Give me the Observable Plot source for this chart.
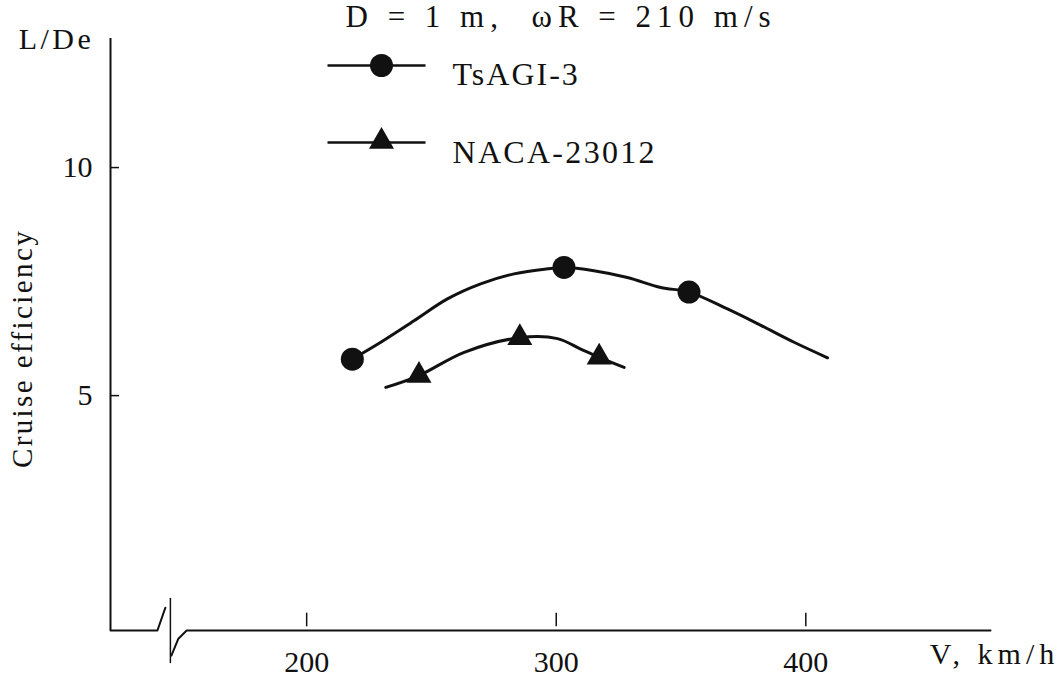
<!DOCTYPE html>
<html>
<head>
<meta charset="utf-8">
<script src="https://cdn.jsdelivr.net/npm/d3@7"></script>
<script src="https://cdn.jsdelivr.net/npm/@observablehq/plot@0.6"></script>
<style>
  html, body { margin: 0; padding: 0; background: #fff; }
  #chart svg { display: block; }
</style>
</head>
<body>
<div id="chart"></div>
<script>
// ---- data ----
const seriesNames = ["TsAGI-3", "NACA-23012"];

// TsAGI-3: measured points (markers) and the drawn curve
const tsagiV  = [218.3, 303.1, 353.2];
const tsagiLD = [5.80, 7.81, 7.27];
const tsagiCurveV  = [218.3, 229.7, 243.0, 256.4, 269.7, 283.1, 296.4, 303.1, 315.1, 328.5, 341.9, 353.2, 368.6, 382.0, 395.3, 408.7];
const tsagiCurveLD = [5.80, 6.17, 6.64, 7.12, 7.45, 7.67, 7.78, 7.81, 7.74, 7.59, 7.37, 7.27, 6.90, 6.54, 6.17, 5.83];

// NACA-23012: measured points (markers) and the drawn curve
const nacaV  = [245.0, 285.4, 317.2];
const nacaLD = [5.44, 6.27, 5.84];
const nacaCurveV  = [231.7, 245.0, 263.1, 285.4, 300.5, 309.8, 317.2, 327.2];
const nacaCurveLD = [5.18, 5.44, 5.95, 6.27, 6.25, 6.02, 5.84, 5.62];

const xTicks = [200, 300, 400];
const yTicks = [5, 10];

const titleText = "D = 1 m,  \u03c9R = 210 m/s";
const xTitle = "V, km/h";
const yTitleTop = "L/De";
const yTitleSide = "Cruise efficiency";

// axis line with the break symbol (data units)
const axisBreakA = [[121.4, -0.15], [140.2, -0.15], [143.4, 0.35]];
const axisBreakB = [[145.4, 0.55], [145.4, -0.85]];
const axisBreakC = [[145.8, -0.70], [148.6, -0.33], [151.9, -0.15], [474.0, -0.15]];

// ---- build ----
const xDomain = [121.4, 474];
const yDomain = [-0.15, 12.83];
const toPts = (vs, ls) => vs.map((v, i) => ({v, ld: ls[i]}));
const pair = (arr) => arr.map(([v, ld]) => ({v, ld}));

const font = "Liberation Serif, Times New Roman, serif";
const ink = "#111";

const lineSymbol = {
  draw(ctx, size) {
    const r = Math.sqrt(size / Math.PI);
    ctx.moveTo(-r, 0);
    ctx.lineTo(r, 0);
  }
};

const chart = Plot.plot({
  width: 1064,
  height: 680,
  marginLeft: 110,
  marginRight: 74,
  marginTop: 38,
  marginBottom: 50,
  style: {fontFamily: font, color: ink, background: "#fff"},
  x: {domain: xDomain, label: null},
  y: {domain: yDomain, label: null},
  marks: [
    // y axis line
    Plot.ruleX([xDomain[0]], {stroke: ink, strokeWidth: 2}),
    // x axis line with break
    Plot.line(pair(axisBreakA), {x: "v", y: "ld", stroke: ink, strokeWidth: 2}),
    Plot.line(pair(axisBreakB), {x: "v", y: "ld", stroke: ink, strokeWidth: 1.5}),
    Plot.line(pair(axisBreakC), {x: "v", y: "ld", stroke: ink, strokeWidth: 2}),
    // inward ticks
    Plot.ruleY(yTicks, {x1: xDomain[0], x2: xDomain[0] + 3.6, stroke: ink, strokeWidth: 1.5}),
    Plot.ruleX(xTicks, {y1: yDomain[0] + 0.08, y2: yDomain[0] + 0.38, stroke: ink, strokeWidth: 1.5}),
    Plot.axisX({ticks: xTicks, tickSize: 0, tickPadding: 20, fontSize: 30, tickFormat: d => String(d), fill: ink, label: null}),
    Plot.axisY({ticks: yTicks, tickSize: 0, tickPadding: 18, fontSize: 30, tickFormat: d => String(d), fill: ink, label: null}),
    // curves
    Plot.line(toPts(tsagiCurveV, tsagiCurveLD), {x: "v", y: "ld", curve: "catmull-rom", stroke: ink, strokeWidth: 3}),
    Plot.line(toPts(nacaCurveV, nacaCurveLD), {x: "v", y: "ld", curve: "catmull-rom", stroke: ink, strokeWidth: 3}),
    Plot.dot(toPts(tsagiV, tsagiLD), {x: "v", y: "ld", r: 11.5, fill: ink, symbol: "circle"}),
    Plot.dot(toPts(nacaV, nacaLD), {x: "v", y: "ld", r: 9.3, fill: ink, symbol: "triangle"}),
    // legend
    Plot.dot([seriesNames[0]], {frameAnchor: "top-left", dx: 266, dy: 27, r: 49, symbol: lineSymbol, stroke: ink, strokeWidth: 2.5, fill: "none"}),
    Plot.dot([seriesNames[0]], {frameAnchor: "top-left", dx: 271, dy: 27, r: 11.5, symbol: "circle", fill: ink}),
    Plot.text([seriesNames[0]], {frameAnchor: "top-left", dx: 342, dy: 24, text: d => d, textAnchor: "start", fontSize: 32, fill: ink}),
    Plot.dot([seriesNames[1]], {frameAnchor: "top-left", dx: 266, dy: 104, r: 49, symbol: lineSymbol, stroke: ink, strokeWidth: 2.5, fill: "none"}),
    Plot.dot([seriesNames[1]], {frameAnchor: "top-left", dx: 271, dy: 103, r: 9.3, symbol: "triangle", fill: ink}),
    Plot.text([seriesNames[1]], {frameAnchor: "top-left", dx: 342, dy: 102, text: d => d, textAnchor: "start", fontSize: 32, fill: ink}),
    // axis titles
    Plot.text([yTitleTop], {frameAnchor: "top-left", dx: -54, dy: -11, text: d => d, textAnchor: "middle", fontSize: 30, fill: ink}),
    Plot.text([xTitle], {frameAnchor: "bottom-right", dx: 4, dy: 33, text: d => d, textAnchor: "middle", fontSize: 30, fill: ink}),
    Plot.text([yTitleSide], {frameAnchor: "left", dx: -88, dy: 14, rotate: -90, text: d => d, textAnchor: "middle", fontSize: 29, fill: ink}),
    // title (cut by the page edge in the reference; kept fully visible here)
    Plot.text([titleText], {frameAnchor: "top-left", dx: 235, dy: -12, textAnchor: "start", lineAnchor: "bottom", text: d => d, fontSize: 31, fill: ink})
  ]
});

// typewriter-like letter spacing, as in the scanned figure
const spacing = new Map([
  [seriesNames[0], "2px"],
  [seriesNames[1], "2.3px"],
  [yTitleTop, "3.5px"],
  [xTitle, "5px"],
  [yTitleSide, "2.4px"],
  [titleText, "6px"]
]);
d3.select(chart).selectAll("text").each(function () {
  const s = spacing.get(this.textContent);
  if (s) this.setAttribute("letter-spacing", s);
});

document.getElementById("chart").appendChild(chart);
</script>
</body>
</html>
